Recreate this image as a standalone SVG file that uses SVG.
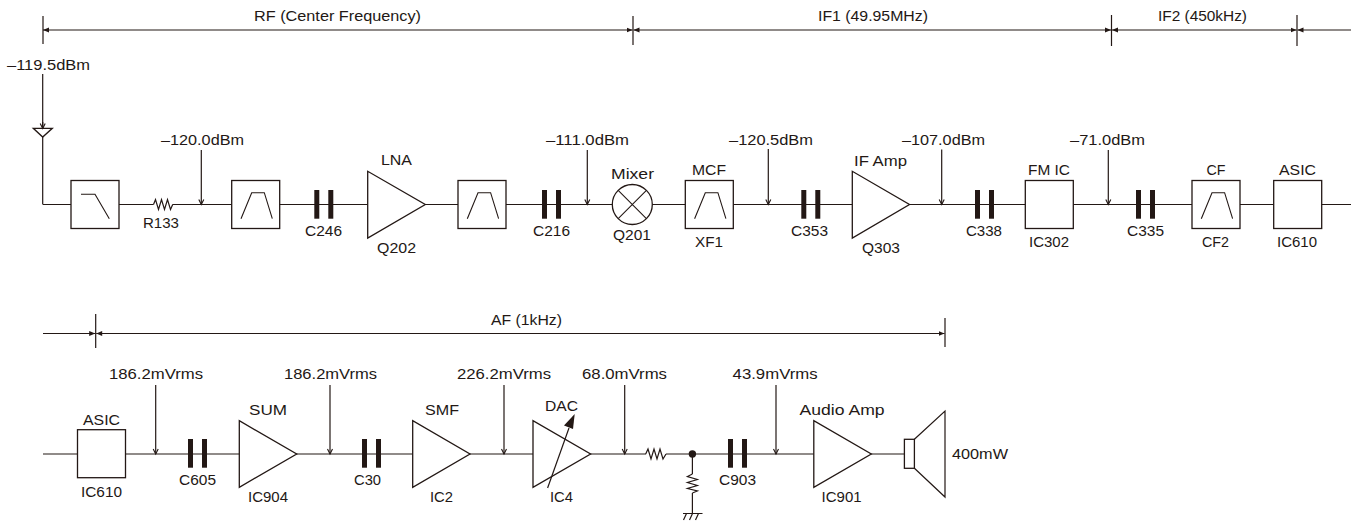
<svg xmlns="http://www.w3.org/2000/svg" width="1352" height="522" viewBox="0 0 1352 522">
<style>
text{font-family:"Liberation Sans",Arial,sans-serif;font-size:15.500px;fill:#231815}
.l,.b,.a,.f{stroke:#231815;stroke-width:1.2;fill:none}
.b{fill:#fff;stroke-width:1.3}
.a{fill:#fff;stroke-width:1.3}
.f{stroke-width:1.1}
.c{fill:#231815;stroke:none}
.m{marker-end:url(#probe)}
</style>
<defs>
<marker id="probe" markerUnits="userSpaceOnUse" markerWidth="8" markerHeight="8" refX="3.500" refY="6" orient="0"><path d="M1 1L3.500 6L6 1" fill="none" stroke="#231815" stroke-width="1.100"/></marker>
<marker id="hl" markerUnits="userSpaceOnUse" markerWidth="7" markerHeight="6" refX="0" refY="3" orient="0"><path d="M0 3L6 .6V5.400Z" fill="#231815"/></marker>
<marker id="hr" markerUnits="userSpaceOnUse" markerWidth="7" markerHeight="6" refX="6" refY="3" orient="0"><path d="M6 3L0 .6V5.400Z" fill="#231815"/></marker>
<path id="bpf" d="M0 38.400L10.700 12.400H23.300L31.300 38.400" fill="none" stroke="#231815" stroke-width="1.100"/>
<g id="cap"><rect class="c" x="0" y="0" width="5" height="28.700"/><rect class="c" x="14" y="0" width="5" height="28.700"/></g>
</defs>
<g id="connectors">
<path class="l" d="M43 204.500H1351M43 454H905"/>
<path class="l" d="M42.700 137V204.500M42.700 74V128.500"/>
<path class="l m" d="M201.300 150V204.500"/><path class="l m" d="M587.300 150V204.500"/><path class="l m" d="M768.300 149V204.500"/><path class="l m" d="M941.700 149.500V204.500"/><path class="l m" d="M1108.300 150V204.500"/>
<path class="l m" d="M155.700 385V454"/><path class="l m" d="M330 385V454"/><path class="l m" d="M504 385V454"/><path class="l m" d="M624.700 385V454"/><path class="l m" d="M776 385V454"/>
<path class="l" d="M692.400 454V513.500"/>
<g id="dimensions">
<path class="l" d="M43 16V44M633 16V45M1111.500 15V46M1297 15V46"/>
<path class="l" style="marker-start:url(#hl);marker-end:url(#hr)" d="M43 30H632.500"/>
<path class="l" style="marker-start:url(#hl);marker-end:url(#hr)" d="M633.500 30H1111"/>
<path class="l" style="marker-start:url(#hl);marker-end:url(#hr)" d="M1112 30H1296.500"/>
<path class="l" style="marker-start:url(#hl)" d="M1297.500 30H1351"/>
<path class="l" d="M95.700 314V348M945 318V347"/>
<path class="l" style="marker-end:url(#hr)" d="M43 333.500H95.200"/>
<path class="l" style="marker-start:url(#hl);marker-end:url(#hr)" d="M96.200 333.500H944.500"/>
</g>
</g>
<g id="antenna"><path class="b" d="M33.300 128.300H52.300L42.700 137Z"/><path class="l m" d="M42.700 122V128.500"/></g>
<g id="lpf"><rect class="b" x="71" y="180.500" width="48" height="48"/><path class="f" d="M81 194.300H95L109.300 218.700"/></g>
<g id="r133"><rect x="153.500" y="202" width="19" height="5" fill="#fff"/><path class="l" d="M153.500 204.500L155.500 199.500L158.500 209.500L161.500 199.500L164.500 209.500L167.500 199.500L170.500 209.500L172.700 204.500"/><text x="143" y="228" lengthAdjust="spacingAndGlyphs" textLength="36">R133</text></g>
<g id="bpf1"><rect class="b" x="231.700" y="180.500" width="48" height="48"/><use href="#bpf" x="241" y="180.300"/></g>
<g id="c246"><use href="#cap" x="314.300" y="190"/><text x="305" y="236" lengthAdjust="spacingAndGlyphs" textLength="37">C246</text></g>
<g id="q202"><path class="a" d="M367.700 171.300V238L425.300 204.500Z"/><text x="381" y="165" lengthAdjust="spacingAndGlyphs" textLength="31">LNA</text><text x="377" y="253" lengthAdjust="spacingAndGlyphs" textLength="39">Q202</text></g>
<g id="bpf2"><rect class="b" x="458" y="180.500" width="48" height="48"/><use href="#bpf" x="467.300" y="180.300"/></g>
<g id="c216"><use href="#cap" x="542" y="190"/><text x="533" y="236" lengthAdjust="spacingAndGlyphs" textLength="37">C216</text></g>
<g id="q201"><circle class="b" cx="632.300" cy="204.500" r="20"/><path class="f" d="M618.200 190.400L646.400 218.600M646.400 190.400L618.200 218.600"/><text x="611" y="179" lengthAdjust="spacingAndGlyphs" textLength="43">Mixer</text><text x="613" y="240" lengthAdjust="spacingAndGlyphs" textLength="38">Q201</text></g>
<g id="xf1"><rect class="b" x="685.300" y="180.500" width="48" height="48"/><use href="#bpf" x="694.600" y="180.300"/><text x="692" y="175" lengthAdjust="spacingAndGlyphs" textLength="34">MCF</text><text x="695" y="247" lengthAdjust="spacingAndGlyphs" textLength="28">XF1</text></g>
<g id="c353"><use href="#cap" x="801.300" y="190"/><text x="791" y="236" lengthAdjust="spacingAndGlyphs" textLength="37">C353</text></g>
<g id="q303"><path class="a" d="M852.300 171.300V238L909.500 204.500Z"/><text x="854" y="165.500" lengthAdjust="spacingAndGlyphs" textLength="53">IF Amp</text><text x="862" y="253" lengthAdjust="spacingAndGlyphs" textLength="38">Q303</text></g>
<g id="c338"><use href="#cap" x="975" y="190"/><text x="966" y="236" lengthAdjust="spacingAndGlyphs" textLength="36">C338</text></g>
<g id="ic302"><rect class="b" x="1025.300" y="180.500" width="48" height="48"/><text x="1028" y="175" lengthAdjust="spacingAndGlyphs" textLength="42">FM IC</text><text x="1029" y="247" lengthAdjust="spacingAndGlyphs" textLength="40">IC302</text></g>
<g id="c335"><use href="#cap" x="1136" y="190"/><text x="1127" y="236" lengthAdjust="spacingAndGlyphs" textLength="37">C335</text></g>
<g id="cf2"><rect class="b" x="1192" y="180.500" width="48" height="48"/><use href="#bpf" x="1201.300" y="180.300"/><text x="1206.500" y="175" lengthAdjust="spacingAndGlyphs" textLength="19">CF</text><text x="1202" y="247" lengthAdjust="spacingAndGlyphs" textLength="27">CF2</text></g>
<g id="ic610a"><rect class="b" x="1273.700" y="180.500" width="48" height="48"/><text x="1279" y="175" lengthAdjust="spacingAndGlyphs" textLength="37">ASIC</text><text x="1277" y="247" lengthAdjust="spacingAndGlyphs" textLength="40">IC610</text></g>
<g id="ic610b"><rect class="b" x="77.500" y="429.700" width="48" height="48"/><text x="83" y="425" lengthAdjust="spacingAndGlyphs" textLength="37">ASIC</text><text x="81" y="497" lengthAdjust="spacingAndGlyphs" textLength="41">IC610</text></g>
<g id="c605"><use href="#cap" x="188" y="439"/><text x="179" y="485" lengthAdjust="spacingAndGlyphs" textLength="37">C605</text></g>
<g id="ic904"><path class="a" d="M239.300 420.700V487.300L296.700 454Z"/><text x="249" y="415" lengthAdjust="spacingAndGlyphs" textLength="38">SUM</text><text x="248" y="502" lengthAdjust="spacingAndGlyphs" textLength="40">IC904</text></g>
<g id="c30"><use href="#cap" x="362" y="439"/><text x="354" y="485" lengthAdjust="spacingAndGlyphs" textLength="27">C30</text></g>
<g id="ic2"><path class="a" d="M412.700 420.700V487.300L470 454Z"/><text x="425" y="415" lengthAdjust="spacingAndGlyphs" textLength="34">SMF</text><text x="430" y="502" lengthAdjust="spacingAndGlyphs" textLength="23">IC2</text></g>
<g id="ic4"><path class="a" d="M533 420.700V487.300L590.600 454Z"/><path class="l" d="M547.600 488L569 428"/><path class="c" d="M574.700 414L573 429L564 425.500Z"/><text x="545" y="411" lengthAdjust="spacingAndGlyphs" textLength="33">DAC</text><text x="550" y="502" lengthAdjust="spacingAndGlyphs" textLength="23">IC4</text></g>
<g id="r1"><rect x="646" y="451" width="20" height="6" fill="#fff"/><path class="l" d="M645.700 454L648 449L651 459L654 449L657 459L660 449L663 459L666 454"/></g>
<circle id="junction" class="c" cx="692.400" cy="454" r="3.700"/>
<g id="r2"><rect x="689" y="474" width="7" height="19" fill="#fff"/><path class="l" d="M692.400 474L687.400 476.500L697.400 479.500L687.400 482.500L697.400 485.500L687.400 488.500L697.400 491L692.400 493"/></g>
<g id="gnd"><path class="l" d="M683 513.500H702.500M686.500 513.500L683.500 520M692.500 513.500L689.500 520M698.500 513.500L695.500 520"/></g>
<g id="c903"><use href="#cap" x="728" y="439"/><text x="719" y="485" lengthAdjust="spacingAndGlyphs" textLength="37">C903</text></g>
<g id="ic901"><path class="a" d="M813.800 420.700V487.300L871.300 454Z"/><text x="799.600" y="415" lengthAdjust="spacingAndGlyphs" textLength="85">Audio Amp</text><text x="821.600" y="502" lengthAdjust="spacingAndGlyphs" textLength="40">IC901</text></g>
<g id="speaker"><rect class="b" x="904.400" y="439.300" width="10" height="29"/><path class="l" d="M914.400 439.300L945 411V497L914.400 468.300"/><text x="952" y="459" lengthAdjust="spacingAndGlyphs" textLength="56">400mW</text></g>
<g id="labels">
<text x="254" y="21" lengthAdjust="spacingAndGlyphs" textLength="167">RF (Center Frequency)</text>
<text x="818" y="21" lengthAdjust="spacingAndGlyphs" textLength="110">IF1 (49.95MHz)</text>
<text x="1158" y="21" lengthAdjust="spacingAndGlyphs" textLength="89">IF2 (450kHz)</text>
<text x="7" y="69.500" lengthAdjust="spacingAndGlyphs" textLength="83">–119.5dBm</text>
<text x="161" y="144.700" lengthAdjust="spacingAndGlyphs" textLength="83">–120.0dBm</text>
<text x="546" y="144.700" lengthAdjust="spacingAndGlyphs" textLength="83">–111.0dBm</text>
<text x="729" y="144.700" lengthAdjust="spacingAndGlyphs" textLength="84">–120.5dBm</text>
<text x="902" y="144.700" lengthAdjust="spacingAndGlyphs" textLength="83">–107.0dBm</text>
<text x="1070" y="144.700" lengthAdjust="spacingAndGlyphs" textLength="75">–71.0dBm</text>
<text x="491" y="325" lengthAdjust="spacingAndGlyphs" textLength="71">AF (1kHz)</text>
<text x="109" y="378.700" lengthAdjust="spacingAndGlyphs" textLength="94">186.2mVrms</text>
<text x="284" y="378.700" lengthAdjust="spacingAndGlyphs" textLength="93">186.2mVrms</text>
<text x="457" y="378.700" lengthAdjust="spacingAndGlyphs" textLength="94">226.2mVrms</text>
<text x="582" y="378.700" lengthAdjust="spacingAndGlyphs" textLength="85">68.0mVrms</text>
<text x="732.600" y="378.700" lengthAdjust="spacingAndGlyphs" textLength="85">43.9mVrms</text>
</g>
</svg>
